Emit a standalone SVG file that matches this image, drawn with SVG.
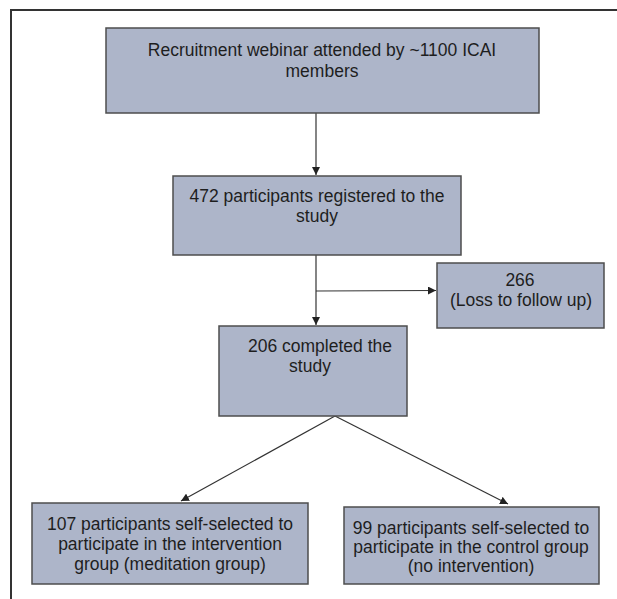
<svg xmlns="http://www.w3.org/2000/svg" width="617" height="599" viewBox="0 0 617 599">
<style>
.box{fill:#adb5c9;stroke:#4d4d4d;stroke-width:1.5}
.t{font-family:"Liberation Sans",Arial,sans-serif;font-size:17.5px;fill:#1e1e1e;text-anchor:middle}
.c{fill:none;stroke:#333;stroke-width:1.2}
</style>
<defs>
<marker id="ah" viewBox="0 0 10 10" refX="10" refY="5" markerWidth="8" markerHeight="8" markerUnits="userSpaceOnUse" orient="auto">
<path d="M0,0 L10,5 L0,10 Z" fill="#222"/>
</marker>
</defs>
<rect width="617" height="599" fill="#fff"/>
<path d="M11,599 V10 H617" fill="none" stroke="#333" stroke-width="2"/>
<g id="connectors">
<line class="c" x1="316" y1="113" x2="316" y2="175" marker-end="url(#ah)"/>
<line class="c" x1="316" y1="255" x2="316" y2="325" marker-end="url(#ah)"/>
<line class="c" x1="316" y1="291" x2="436" y2="290.5" marker-end="url(#ah)"/>
<line class="c" x1="335" y1="416" x2="181" y2="501" marker-end="url(#ah)"/>
<line class="c" x1="335" y1="416" x2="508" y2="504" marker-end="url(#ah)"/>
</g>
<g id="n1">
<rect class="box" x="106" y="28" width="433" height="85"/>
<text class="t" x="322" y="56">Recruitment webinar attended by ~1100 ICAI</text>
<text class="t" x="322" y="77">members</text>
</g>
<g id="n2">
<rect class="box" x="173" y="176" width="288" height="79"/>
<text class="t" x="317" y="202">472 participants registered to the</text>
<text class="t" x="317" y="222">study</text>
</g>
<g id="n3">
<rect class="box" x="437" y="263" width="167" height="65"/>
<text class="t" x="520" y="286">266</text>
<text class="t" x="521" y="306">(Loss to follow up)</text>
</g>
<g id="n4">
<rect class="box" x="219" y="326" width="188" height="90"/>
<text class="t" x="320" y="352">206 completed the</text>
<text class="t" x="310" y="372">study</text>
</g>
<g id="n5">
<rect class="box" x="32" y="503" width="276" height="81"/>
<text class="t" x="170" y="530">107 participants self-selected to</text>
<text class="t" x="170" y="550">participate in the intervention</text>
<text class="t" x="170" y="570">group (meditation group)</text>
</g>
<g id="n6">
<rect class="box" x="344" y="507" width="255" height="77"/>
<text class="t" x="471" y="534">99 participants self-selected to</text>
<text class="t" x="471" y="553">participate in the control group</text>
<text class="t" x="471" y="572">(no intervention)</text>
</g>
</svg>
